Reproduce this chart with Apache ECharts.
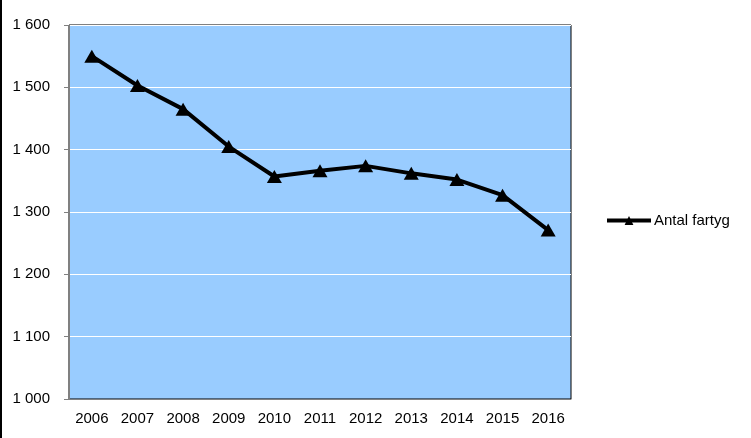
<!DOCTYPE html>
<html><head><meta charset="utf-8">
<script src="https://cdn.jsdelivr.net/npm/echarts@6/dist/echarts.min.js"></script>
<style>html,body{margin:0;padding:0;background:#fff}#c{width:751px;height:438px;box-sizing:border-box;border-left:2px solid #000}</style>
</head><body><div id="c"></div>
<script>
const years = ['2006','2007','2008','2009','2010','2011','2012','2013','2014','2015','2016'];
const antalFartyg = [1550, 1503, 1465, 1405, 1357, 1366, 1374, 1362, 1352, 1327, 1271];
const seriesName = 'Antal fartyg';
const yMin = 1000, yMax = 1600, yStep = 100;

const chart = echarts.init(document.getElementById('c'));
const fmt = v => String(v).replace(/\B(?=(\d{3})+(?!\d))/g, ' ');
chart.setOption({
  animation: false,
  textStyle: { fontFamily: 'Liberation Sans, Arial, sans-serif' },
  grid: { left: 67, right: 180, top: 25, bottom: 39, show: true, backgroundColor: '#99CCFF', borderColor: '#000', borderWidth: 1 },
  legend: {
    left: 603, top: 213, padding: 0, itemWidth: 44, itemHeight: 11, itemGap: 4,
    lineStyle: { width: 4 },
    textStyle: { fontSize: 15, color: '#000', fontFamily: 'Liberation Sans, Arial, sans-serif', padding: [0, 0, 0, -2] },
    data: [seriesName]
  },
  xAxis: {
    type: 'category', data: years, boundaryGap: true,
    axisLine: { lineStyle: { color: '#808080', width: 1 } },
    axisTick: { show: false },
    axisLabel: { color: '#000', fontSize: 15, margin: 12 }
  },
  yAxis: {
    type: 'value', min: yMin, max: yMax, interval: yStep,
    axisLine: { show: true, lineStyle: { color: '#808080', width: 1 } },
    axisTick: { show: true, length: 5, lineStyle: { color: '#808080' } },
    splitLine: { lineStyle: { color: '#fff', width: 1 } },
    axisLabel: { color: '#000', fontSize: 15, margin: 19, formatter: fmt }
  },
  series: [{
    name: seriesName, type: 'line', data: antalFartyg,
    symbol: 'triangle', symbolSize: [15, 13],
    lineStyle: { color: '#000', width: 4 },
    itemStyle: { color: '#000' }
  }]
});
</script></body></html>
